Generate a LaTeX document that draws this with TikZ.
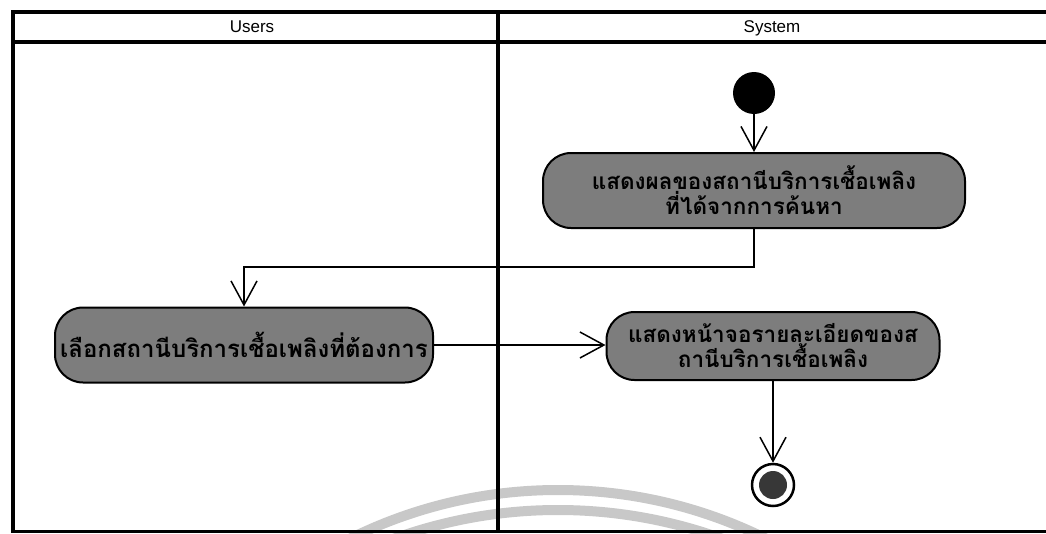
\documentclass[tikz,border=0pt]{standalone}
\usepackage{fontspec}
\setmainfont{Liberation Sans}
\newfontfamily\thaifont[Script=Thai]{Loma}
\usetikzlibrary{arrows.meta}
\definecolor{actfill}{RGB}{125,125,125}
\definecolor{endfill}{RGB}{55,55,55}
\definecolor{arcgray}{RGB}{200,200,200}
\tikzset{
  lane/.style={line width=4pt, line cap=rect},
  lanehead/.style={font=\fontsize{17}{19}\selectfont},
  action/.style={draw=black, line width=2pt, fill=actfill, rounded corners=28pt,
    align=center, inner sep=0pt,
    font=\thaifont\bfseries\fontsize{22.5}{25}\selectfont},
  flow/.style={line width=1.5pt, -{Straight Barb[length=24pt,width=26pt,line width=1.5pt]}},
  startnode/.style={circle, fill=black, minimum size=42pt, inner sep=0pt},
}
\begin{document}
\begin{tikzpicture}[x=1pt,y=-1pt]
\useasboundingbox (0,0) rectangle (1046,533);
\fill[white] (0,0) rectangle (1046,533);

% faint arcs in the lower middle
\begin{scope}
  \clip (0,0) rectangle (1046,533);
  \draw[draw=arcgray, line width=10pt] (558,958) circle[radius=468];
  \draw[draw=arcgray, line width=10pt] (558,991) circle[radius=481];
\end{scope}

% swimlane frame
\draw[lane] (13,12) -- (1046,12);
\draw[lane, line width=4.5pt] (13,42) -- (1046,42);
\draw[lane] (13,12) -- (13,531);
\draw[lane, line width=3pt] (13,531) -- (1046,531);
\draw[lane] (498,12) -- (498,531);
\node[lanehead] (users) at (252,27) {Users};
\node[lanehead] (system) at (772,28) {System};

% activity nodes
\node[startnode] (start) at (754,93) {};
\node[action, minimum width=422pt, minimum height=75pt] (a1) at (754,190.5)
  {แสดงผลของสถานีบริการเชื้อเพลิง\\ที่ได้จากการค้นหา};
\node[action, minimum width=378pt, minimum height=75pt,
      font=\thaifont\bfseries\fontsize{24}{25}\selectfont] (a2) at (244,345)
  {เลือกสถานีบริการเชื้อเพลิงที่ต้องการ};
\node[action, minimum width=333pt, minimum height=68pt] (a3) at (773,346)
  {แสดงหน้าจอรายละเอียดของส\\ถานีบริการเชื้อเพลิง};

% final node
\node[circle, draw=black, line width=2.5pt, fill=white, minimum size=42pt, inner sep=0pt] (end) at (773,485) {};
\fill[endfill] (end.center) circle[radius=14];

% control flows
\draw[flow] (start) -- (a1.north);
\draw[flow] (a1.south) -- ++(0,38) -| (a2.north);
\draw[flow] (a2.east) -- (a2.east -| a3.west);
\draw[flow] (a3.south) -- (end.north);
\end{tikzpicture}
\end{document}
